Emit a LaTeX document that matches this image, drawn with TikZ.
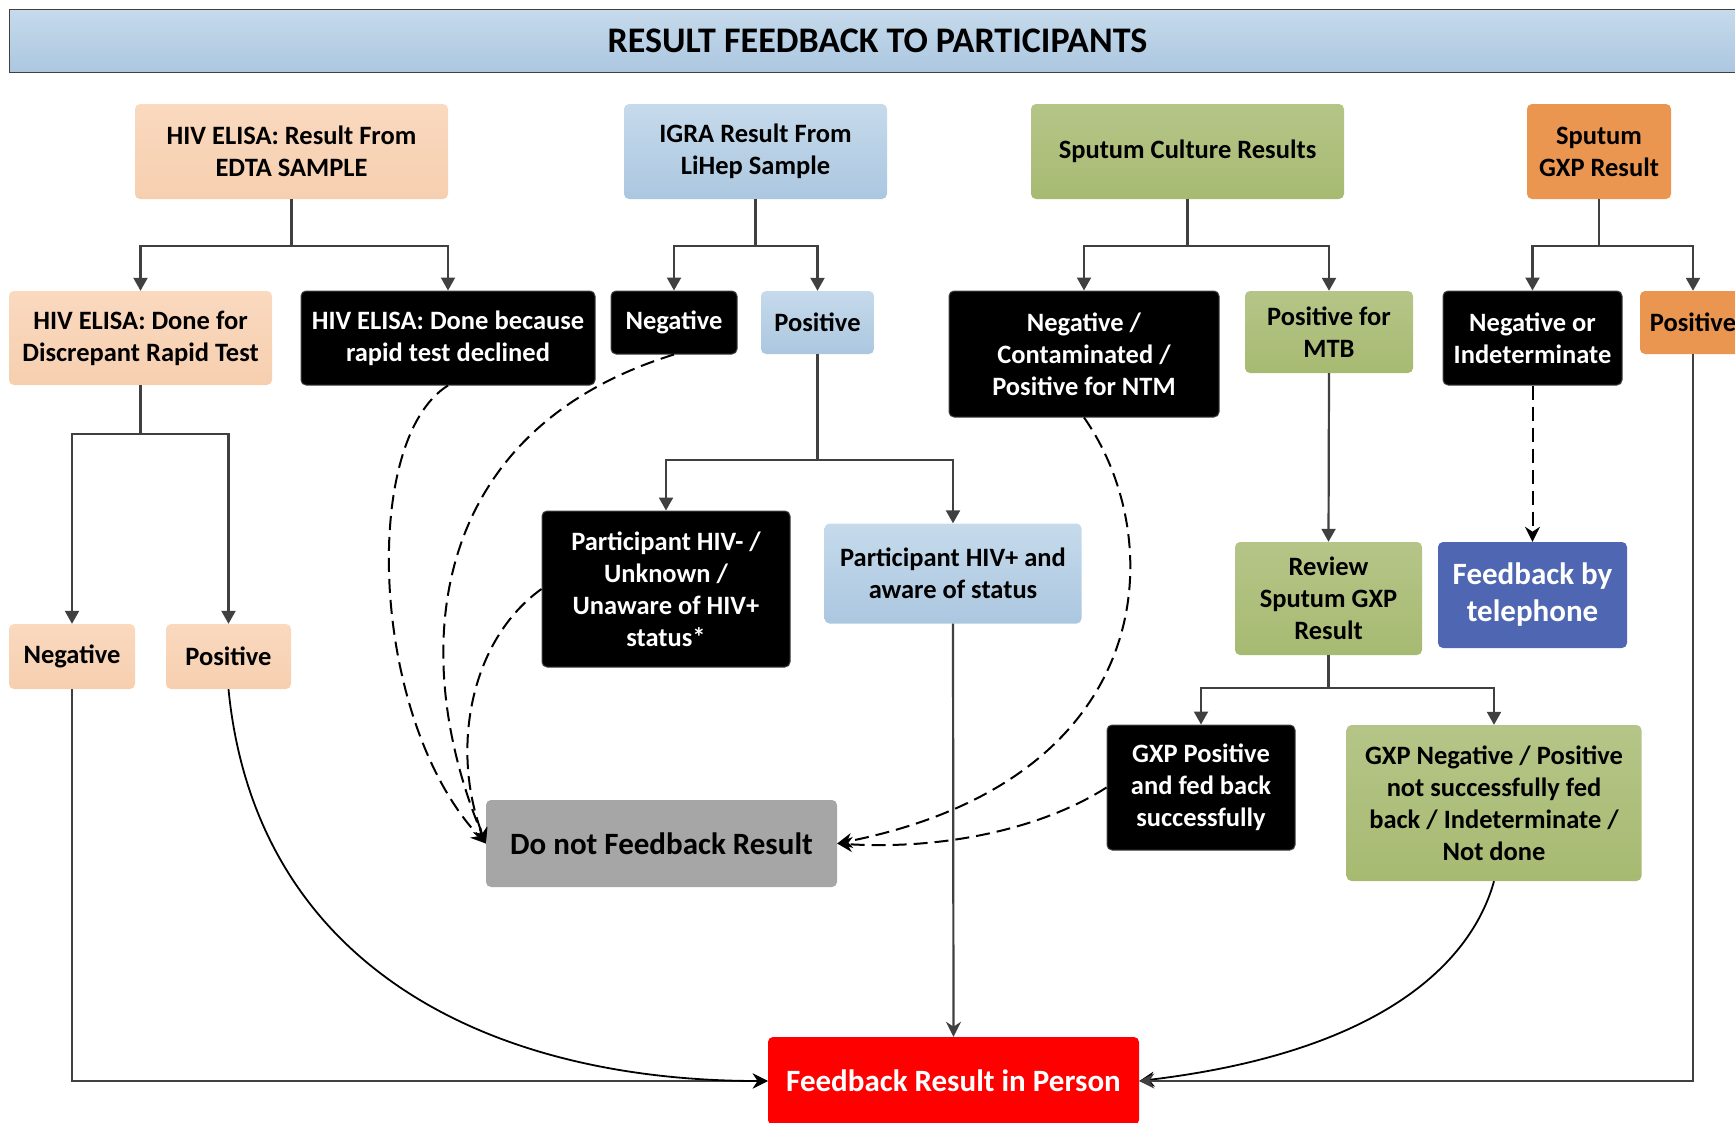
\documentclass[tikz,border=0pt]{standalone}
\usepackage{fontspec}
\setmainfont{Carlito}
\usetikzlibrary{arrows.meta}
\definecolor{peachtop}{HTML}{FAD9BF}
\definecolor{peachbot}{HTML}{F6CFAF}
\definecolor{bluetop}{HTML}{C6DAEB}
\definecolor{bluebot}{HTML}{ABC7E0}
\definecolor{greentop}{HTML}{B5C588}
\definecolor{greenbot}{HTML}{A7BA71}
\definecolor{gxporange}{HTML}{EB9650}
\definecolor{phoneblue}{HTML}{4F67B2}
\definecolor{nofbgray}{HTML}{A6A6A6}
\definecolor{linegray}{HTML}{404040}

\tikzset{
  box/.style={rounded corners=5pt, align=center, inner sep=2pt,
    font=\bfseries\fontsize{26.5}{32}\selectfont},
  peachbox/.style={box, top color=peachtop, bottom color=peachbot},
  bluebox/.style={box, top color=bluetop, bottom color=bluebot},
  greenbox/.style={box, top color=greentop, bottom color=greenbot},
  orangebox/.style={box, fill=gxporange},
  blackbox/.style={box, fill=black, draw=linegray, line width=1pt, text=white},
  bigtext/.style={font=\bfseries\fontsize{31}{37}\selectfont},
  tree/.style={draw=linegray, line width=2.2pt},
  treearrow/.style={tree, -{Triangle[width=14pt,length=13pt]}},
  curvearrow/.style={draw=black, line width=1.8pt, -{Stealth[width=15pt,length=15pt]}},
  dasharrow/.style={curvearrow, line width=2pt, dash pattern=on 14pt off 7pt},
}

\begin{document}
\begin{tikzpicture}[x=1pt,y=-1pt]
  \useasboundingbox (0,0) rectangle (1735,1122);
  \clip (0,0) rectangle (1735,1122);

  % title
  \node[top color=bluetop, bottom color=bluebot, draw=linegray, line width=1pt,
    anchor=north west, minimum width=1736pt, minimum height=63pt,
    font=\bfseries\fontsize{36}{42}\selectfont] (title) at (9,9) {RESULT FEEDBACK TO PARTICIPANTS};

  % first row
  \node[peachbox, minimum width=313pt, minimum height=95pt] (elisaRes) at (291.5,151.5) {HIV ELISA: Result From\\EDTA SAMPLE};
  \node[bluebox, minimum width=263pt, minimum height=95pt] (igraRes) at (755.5,151.5) {IGRA Result From\\LiHep Sample};
  \node[greenbox, minimum width=313pt, minimum height=95pt] (cultRes) at (1187.5,151.5) {Sputum Culture Results};
  \node[orangebox, minimum width=144pt, minimum height=95pt] (gxpRes) at (1599,151.5) {Sputum\\GXP Result};

  % second row
  \node[peachbox, minimum width=263pt, minimum height=94pt] (elisaDisc) at (140.5,338) {HIV ELISA: Done for\\Discrepant Rapid Test};
  \node[blackbox, minimum width=294pt, minimum height=94pt] (elisaDecl) at (448,338) {HIV ELISA: Done because\\rapid test declined};
  \node[blackbox, minimum width=126pt, minimum height=63pt] (igraNeg) at (674,322.5) {Negative};
  \node[bluebox, minimum width=113pt, minimum height=63pt] (igraPos) at (817.5,322.5) {Positive};
  \node[blackbox, minimum width=270pt, minimum height=126pt] (cultNeg) at (1084,354) {Negative /\\Contaminated /\\Positive for NTM};
  \node[greenbox, minimum width=168pt, minimum height=82pt] (cultPos) at (1329,332) {Positive for\\MTB};
  \node[blackbox, minimum width=179pt, minimum height=94pt] (gxpNeg) at (1532.5,338) {Negative or\\Indeterminate};
  \node[orangebox, minimum width=106pt, minimum height=63pt] (gxpPos) at (1693,322.5) {Positive};

  % third row
  \node[peachbox, minimum width=126pt, minimum height=65pt] (discNeg) at (72,656.5) {Negative};
  \node[peachbox, minimum width=125pt, minimum height=65pt] (discPos) at (228.5,656.5) {Positive};
  \node[blackbox, minimum width=248pt, minimum height=156pt] (hivNeg) at (666,589) {Participant HIV- /\\Unknown /\\Unaware of HIV+\\status*};
  \node[bluebox, minimum width=257pt, minimum height=100pt] (hivPos) at (953,573.5) {Participant HIV+ and\\aware of status};
  \node[greenbox, minimum width=187pt, minimum height=113pt] (gxpReview) at (1328.5,598.5) {Review\\Sputum GXP\\Result};
  \node[box, bigtext, fill=phoneblue, text=white, minimum width=189pt, minimum height=106pt] (phone) at (1532.5,595) {Feedback by\\telephone};
  \node[blackbox, minimum width=188pt, minimum height=125pt] (gxpFed) at (1201,787.5) {GXP Positive\\and fed back\\successfully};
  \node[greenbox, minimum width=295pt, minimum height=156pt] (gxpNot) at (1494,803) {GXP Negative / Positive\\not successfully fed\\back / Indeterminate /\\Not done};

  % outcomes
  \node[box, bigtext, fill=nofbgray, minimum width=351pt, minimum height=87pt] (noFb) at (661.5,843.5) {Do not Feedback Result};
  \node[box, bigtext, fill=red, text=white, minimum width=371pt, minimum height=88pt] (inPerson) at (953.5,1081) {Feedback Result in Person};

  % branch points
  \coordinate (elisaSplit) at (291.5,246);
  \coordinate (igraSplit) at (755.5,246);
  \coordinate (cultSplit) at (1187.5,246);
  \coordinate (gxpSplit) at (1599,246);
  \coordinate (discSplit) at (140.5,434);
  \coordinate (hivSplit) at (817.5,460);
  \coordinate (reviewSplit) at (1328.5,688);

  \draw[treearrow] (elisaRes.south) -- (elisaSplit) -| (elisaDisc.north);
  \draw[treearrow] (elisaRes.south) -- (elisaSplit) -| (elisaDecl.north);
  \draw[treearrow] (igraRes.south) -- (igraSplit) -| (igraNeg.north);
  \draw[treearrow] (igraRes.south) -- (igraSplit) -| (igraPos.north);
  \draw[treearrow] (cultRes.south) -- (cultSplit) -| (cultNeg.north);
  \draw[treearrow] (cultRes.south) -- (cultSplit) -| (cultPos.north);
  \draw[treearrow] (gxpRes.south) -- (gxpSplit) -| (gxpNeg.north);
  \draw[treearrow] (gxpRes.south) -- (gxpSplit) -| (gxpPos.north);
  \draw[treearrow] (elisaDisc.south) -- (discSplit) -| (discNeg.north);
  \draw[treearrow] (elisaDisc.south) -- (discSplit) -| (discPos.north);
  \draw[treearrow] (igraPos.south) -- (hivSplit) -| (hivNeg.north);
  \draw[treearrow] (igraPos.south) -- (hivSplit) -| (hivPos.north);
  \draw[treearrow] (cultPos.south) -- (gxpReview.north);
  \draw[treearrow] (gxpReview.south) -- (reviewSplit) -| (gxpFed.north);
  \draw[treearrow] (gxpReview.south) -- (reviewSplit) -| (gxpNot.north);
  \draw[dasharrow] (gxpNeg.south) -- (phone.north);

  % not fed back
  \draw[dasharrow] (elisaDecl.south) .. controls (360,440) and (370,720) .. (noFb.west);
  \draw[dasharrow] (igraNeg.south) .. controls (430,430) and (405,650) .. (noFb.west);
  \draw[dasharrow] (hivNeg.west) .. controls (470,640) and (450,750) .. (noFb.west);
  \draw[dasharrow] (cultNeg.south) .. controls (1170,540) and (1160,780) .. (noFb.east);
  \draw[dasharrow] (gxpFed.west) .. controls (1040,830) and (940,850) .. (noFb.east);

  % fed back in person
  \draw[tree, -{Stealth[width=15pt,length=15pt]}] (discNeg.south) |- (inPerson.west);
  \draw[curvearrow] (discPos.south) .. controls (255,960) and (480,1081) .. (inPerson.west);
  \draw[tree, -{Stealth[width=15pt,length=15pt]}] (hivPos.south) -- (inPerson.north);
  \draw[curvearrow] (gxpNot.south) .. controls (1475,950) and (1400,1050) .. (inPerson.east);
  \draw[tree, -{Stealth[width=15pt,length=15pt]}] (gxpPos.south) |- (inPerson.east);
\end{tikzpicture}
\end{document}
